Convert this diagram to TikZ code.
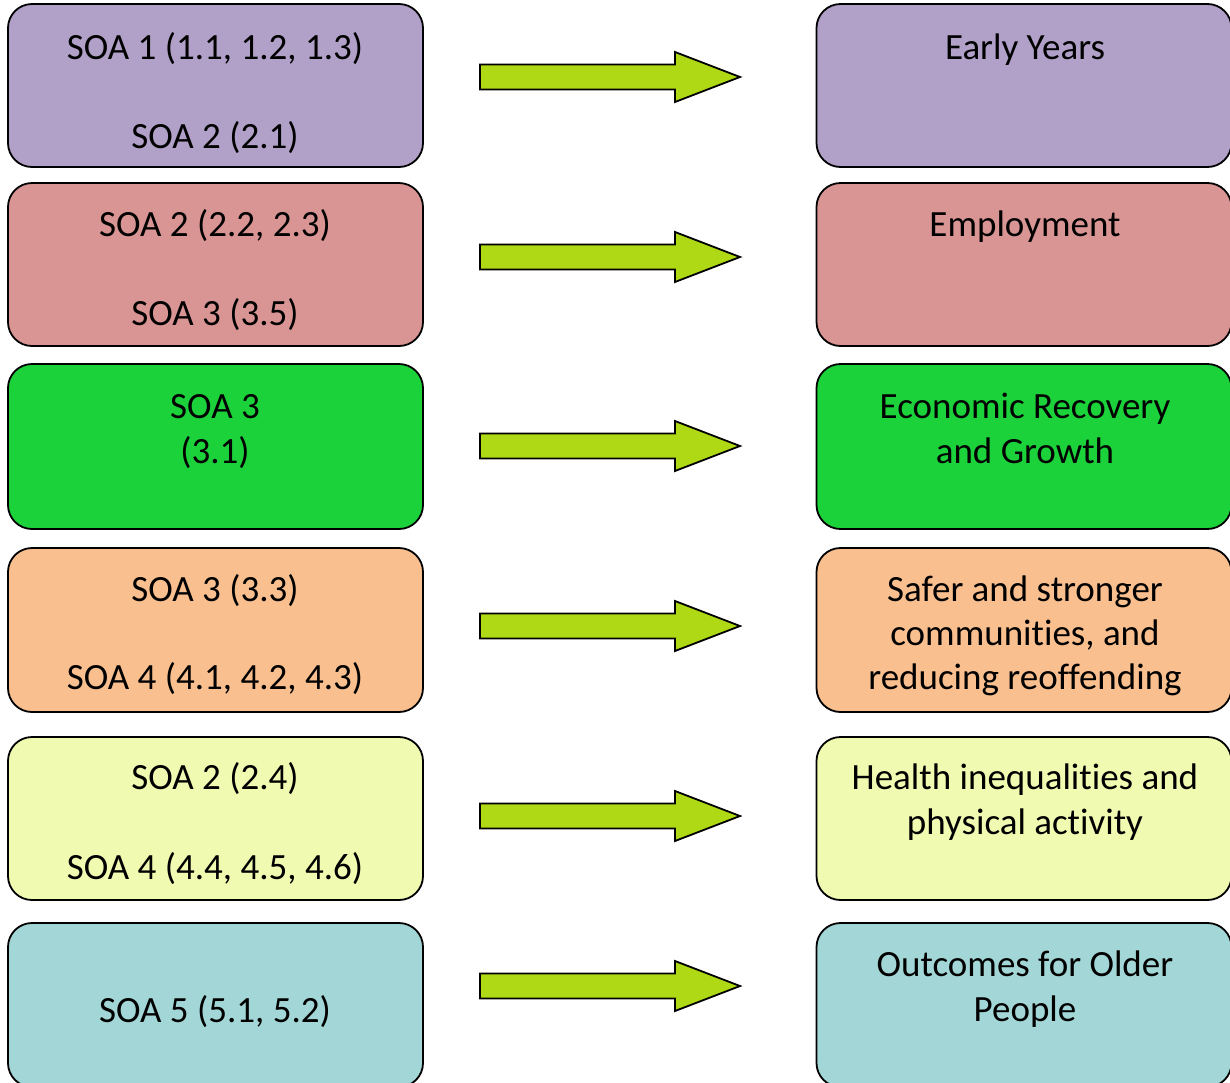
\documentclass[tikz,border=0pt]{standalone}
\usepackage{fontspec}
\setmainfont{Carlito}[Ligatures=NoCommon]
\definecolor{cPurple}{HTML}{B1A0C7}
\definecolor{cPink}{HTML}{D99594}
\definecolor{cGreen}{HTML}{1BD23B}
\definecolor{cOrange}{HTML}{F9BF8F}
\definecolor{cYellow}{HTML}{F0FAB0}
\definecolor{cTeal}{HTML}{A3D6D6}
\definecolor{cArrow}{HTML}{AFD914}
\tikzset{
  box/.style={draw=black, line width=1.8pt, rounded corners=24pt, inner sep=0pt, minimum width=415pt},
  txt/.style={anchor=base, inner sep=0pt, font=\fontsize{37}{44}\selectfont},
  blockarrow/.style={draw=black, fill=cArrow, line width=1.8pt, line join=miter},
}
\begin{document}
\begin{tikzpicture}[x=1pt, y=-1pt]
\useasboundingbox (0,0) rectangle (1230,1082);
% left boxes
\node[box, fill=cPurple, minimum height=163pt] (L1) at (215.5,85.5) {};
\node[box, fill=cPink,   minimum height=163pt] (L2) at (215.5,264.5) {};
\node[box, fill=cGreen,  minimum height=165pt] (L3) at (215.5,446.5) {};
\node[box, fill=cOrange, minimum height=164pt] (L4) at (215.5,630) {};
\node[box, fill=cYellow, minimum height=163pt] (L5) at (215.5,818.5) {};
\node[box, fill=cTeal,   minimum height=164pt] (L6) at (215.5,1005) {};
% right boxes
\node[box, fill=cPurple, minimum height=163pt] (R1) at (1024,85.5) {};
\node[box, fill=cPink,   minimum height=163pt] (R2) at (1024,264.5) {};
\node[box, fill=cGreen,  minimum height=165pt] (R3) at (1024,446.5) {};
\node[box, fill=cOrange, minimum height=164pt] (R4) at (1024,630) {};
\node[box, fill=cYellow, minimum height=163pt] (R5) at (1024,818.5) {};
\node[box, fill=cTeal,   minimum height=164pt] (R6) at (1024,1005) {};
% left texts
\node[txt] (L1a) at (215,59) {SOA 1 (1.1, 1.2, 1.3)};
\node[txt] (L1b) at (215,148) {SOA 2 (2.1)};
\node[txt] (L2a) at (215,236) {SOA 2 (2.2, 2.3)};
\node[txt] (L2b) at (215,325) {SOA 3 (3.5)};
\node[txt] (L3a) at (215,418) {SOA 3};
\node[txt] (L3b) at (215,463) {(3.1)};
\node[txt] (L4a) at (215,601) {SOA 3 (3.3)};
\node[txt] (L4b) at (215,689) {SOA 4 (4.1, 4.2, 4.3)};
\node[txt] (L5a) at (215,789) {SOA 2 (2.4)};
\node[txt] (L5b) at (215,879) {SOA 4 (4.4, 4.5, 4.6)};
\node[txt] (L6a) at (215,1022) {SOA 5 (5.1, 5.2)};
% right texts
\node[txt] (R1a) at (1025,59) {Early Years};
\node[txt] (R2a) at (1025,236) {Employment};
\node[txt] (R3a) at (1025,418) {Economic Recovery};
\node[txt] (R3b) at (1025,463) {and Growth};
\node[txt] (R4a) at (1025,601) {Safer and stronger};
\node[txt] (R4b) at (1025,645) {communities, and};
\node[txt] (R4c) at (1025,689) {reducing reoffending};
\node[txt] (R5a) at (1025,789) {Health inequalities and};
\node[txt] (R5b) at (1025,834) {physical activity};
\node[txt] (R6a) at (1025,976) {Outcomes for Older};
\node[txt] (R6b) at (1025,1021) {People};
% block arrows
\foreach \n/\c in {1/77, 2/257, 3/446, 4/626, 5/816, 6/986} {
  \coordinate (A\n) at (480,\c);
  \draw[blockarrow] (A\n) ++(0,-12.5) -- ++(195,0) -- ++(0,-12.5) -- ++(65,25)
     -- ++(-65,25) -- ++(0,-12.5) -- ++(-195,0) -- cycle;
}
\end{tikzpicture}
\end{document}
